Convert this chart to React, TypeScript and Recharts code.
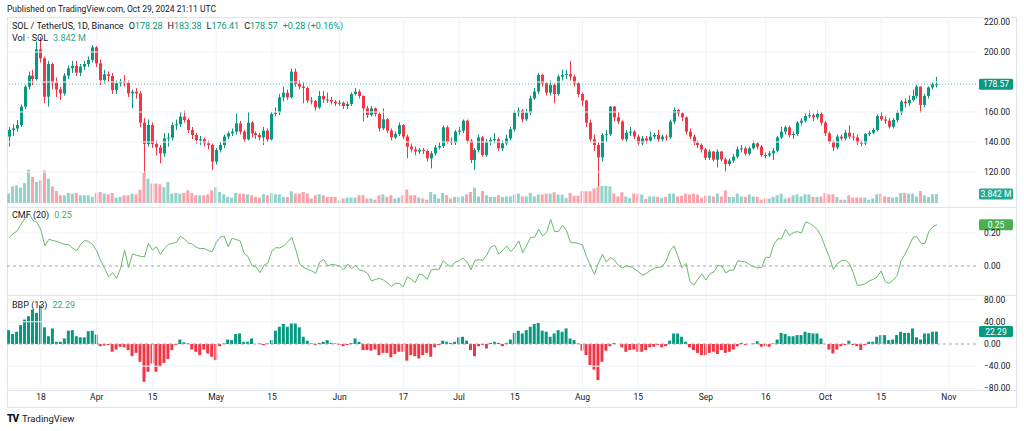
import React from "react";
import { ComposedChart, Bar, Line, XAxis, YAxis, ReferenceLine, Cell } from "recharts";

const UP = "#089981";
const DOWN = "#f23645";
const UP_VOL = "#93d2c8";
const DOWN_VOL = "#f9a3aa";
const CMF_COLOR = "#4caf50";
const GRID = "#f0f3fa";
const BORDER = "#e0e3eb";
const TEXT = "#131722";
const FONT = "'Trebuchet MS', Roboto, 'Liberation Sans', sans-serif";

// daily candles, Mar 10 (index 0) .. Oct 29 2024 (index 233)
const firstOpen = 143.6;
const closes = [
  148.0, 149.0, 151.3, 163.6, 176.9, 184.2, 182.0, 201.8, 195.8, 170.2,
  192.0, 179.6, 175.1, 172.4, 184.2, 189.1, 190.7, 186.2, 190.2, 192.0,
  194.7, 203.1, 192.4, 181.3, 185.1, 184.0, 174.7, 179.1, 180.2, 179.5,
  172.4, 173.6, 172.4, 152.9, 138.7, 151.3, 138.7, 136.4, 132.4, 142.4,
  142.9, 151.3, 151.8, 156.9, 154.7, 148.0, 144.7, 141.3, 141.8, 139.1,
  138.0, 126.9, 134.7, 138.0, 143.6, 145.8, 146.9, 152.4, 146.9, 141.8,
  152.9, 145.8, 144.7, 143.1, 147.6, 141.8, 158.7, 159.6, 169.8, 172.9,
  169.8, 186.9, 178.7, 176.9, 176.0, 167.6, 167.2, 163.1, 170.7, 168.4,
  168.0, 166.9, 165.8, 166.2, 164.0, 165.3, 172.0, 173.6, 170.7, 162.4,
  158.0, 162.4, 158.7, 149.1, 155.1, 147.6, 143.1, 145.3, 151.3, 143.6,
  136.9, 135.1, 133.6, 134.7, 134.0, 129.1, 132.4, 136.4, 137.3, 149.8,
  140.2, 139.6, 146.9, 147.6, 154.2, 140.9, 128.0, 134.7, 143.1, 131.3,
  140.2, 141.3, 141.8, 135.8, 139.1, 142.4, 148.4, 159.6, 160.9, 155.1,
  159.6, 169.1, 173.6, 184.7, 179.1, 172.9, 178.0, 172.0, 183.6, 184.7,
  185.3, 183.6, 179.1, 172.0, 167.6, 152.9, 141.8, 138.0, 129.8, 144.7,
  145.2, 163.6, 156.4, 153.6, 141.8, 146.2, 146.9, 143.6, 139.1, 142.4,
  140.9, 143.6, 144.7, 141.8, 143.6, 143.1, 153.6, 161.3, 159.1, 156.4,
  146.9, 143.6, 139.6, 138.0, 135.1, 129.5, 133.6, 128.2, 133.6, 128.4,
  125.3, 127.6, 130.2, 135.1, 135.8, 132.2, 135.8, 139.1, 136.9, 131.3,
  131.1, 132.4, 134.2, 143.1, 146.9, 149.8, 144.7, 145.3, 152.9, 154.2,
  157.3, 157.8, 156.4, 158.7, 152.9, 145.8, 140.2, 136.4, 143.6, 142.4,
  146.2, 143.6, 143.1, 139.6, 139.1, 145.3, 146.2, 148.0, 157.3, 155.1,
  154.2, 150.2, 154.7, 159.6, 166.9, 165.8, 168.0, 170.7, 176.9, 164.7,
  170.7, 176.4, 178.28, 178.57,
];
const highs = [
  150, 152, 154.7, 165, 178, 187, 188, 207, 210, 197,
  194, 193, 183, 177, 186, 191, 194, 194, 192, 194,
  197, 204.7, 204, 195, 188, 187, 186, 181, 182, 184.5,
  181, 175, 176, 174, 156, 155, 153, 141, 138, 146,
  146, 153, 155, 160, 161, 156, 150, 146, 144, 143,
  141, 139, 136, 140, 145, 147, 149, 159, 154, 148,
  160, 154, 147, 146, 150, 149, 160, 163, 172, 177,
  175, 189, 189, 181, 180, 177, 170, 168, 174, 174,
  173, 170, 168, 168, 167, 167, 173, 176, 175, 171,
  164, 164, 163, 160, 162.4, 156, 149, 147, 153, 152,
  145, 139, 137, 136, 136, 135, 134, 138, 140, 151,
  151, 143, 148, 150, 155, 155, 142, 136, 145, 144,
  142, 143, 146, 143, 141, 145, 150, 161, 163, 162,
  162, 171, 176, 186, 185.5, 180, 181, 179, 185, 188.4,
  188, 194, 185, 180, 173, 168, 155, 145, 140, 146,
  148, 164, 164, 160, 154.5, 148, 150, 148, 145, 144,
  144, 147, 146, 148, 145, 145, 155, 163, 162, 160,
  157, 149, 145, 141, 139, 136, 135, 134, 135, 134,
  129.5, 129, 132, 137, 138, 137, 137, 141, 140, 138,
  133, 134, 136, 144, 150, 151, 151, 147, 154, 156,
  159, 161, 159, 161, 160, 154, 147, 141, 145, 145,
  148, 151, 146, 145, 141, 146, 147.5, 149.5, 158.5, 160,
  157, 156, 156, 161, 168, 169, 171, 175, 178, 177,
  172, 177, 180, 183.38,
];
const lows = [
  137, 144, 147, 150, 162, 175, 178, 181, 193, 165.8,
  163.6, 175, 170, 168, 171, 182, 186, 184, 184, 188,
  190, 193, 190, 178, 179, 180, 172, 172, 177, 177,
  170, 162.4, 169, 150, 119, 137, 136, 131, 125.8, 130,
  137, 141, 148, 150, 153, 146, 142, 139, 138, 137,
  135, 121.3, 125, 133, 136, 142, 144, 145, 145, 140,
  141, 143, 142, 141, 138, 140, 141, 157, 158, 167,
  168, 169, 177, 175, 165.8, 166, 165, 161, 162, 166,
  166, 165, 164, 164, 162, 162, 164, 171, 169, 153.6,
  156, 157, 157, 147, 148, 146, 141, 142, 144, 142,
  129.1, 133, 131, 132, 132, 127, 122.4, 131, 135, 136,
  139, 138, 138, 145, 146, 139, 126, 121.3, 133, 130,
  130, 138, 139, 134, 134, 138, 141, 147, 157, 153,
  154, 158, 168, 172, 177, 171, 171, 165.8, 171, 181,
  182, 181, 177, 170, 164, 150, 140, 134, 110.2, 127,
  140, 144, 154, 152, 141, 140, 144, 142, 138, 138,
  139, 140, 142, 140, 140, 141, 142, 152, 157, 154,
  145, 142, 138, 136, 133, 128, 128, 127, 123, 127,
  120.2, 124, 126, 129, 133, 131, 131, 135, 135, 130,
  129, 130, 128, 133, 142, 145, 143, 142, 144, 151,
  153, 156, 154, 155, 151, 144, 139, 134, 135, 141,
  141, 142, 141, 138, 137, 138, 144, 145, 147, 154,
  152, 149, 149, 153, 158, 163, 164, 167, 169, 159.6,
  163, 169, 175, 176.41,
];
// volume, millions of SOL
const volumes = [
  4.0, 7.1, 7.5, 6.5, 8.5, 14.2, 11.1, 9.0, 9.7, 13.9,
  10.4, 7.1, 5.1, 3.3, 3.3, 4.3, 4.0, 4.3, 3.3, 3.3,
  3.3, 2.6, 4.3, 4.7, 4.0, 3.7, 4.3, 2.3, 2.6, 3.3,
  3.3, 4.0, 3.7, 5.7, 12.8, 10.4, 8.3, 8.3, 8.0, 6.8,
  9.0, 4.0, 4.3, 4.0, 4.3, 5.4, 4.3, 3.3, 3.3, 3.3,
  3.7, 5.4, 6.8, 4.7, 3.7, 2.6, 2.3, 4.3, 4.0, 4.0,
  3.7, 3.3, 2.6, 2.3, 3.7, 3.3, 4.3, 3.7, 3.7, 2.6,
  2.6, 5.0, 4.0, 4.0, 4.7, 4.0, 1.9, 3.3, 3.7, 3.3,
  2.6, 2.6, 2.6, 1.1, 1.9, 2.3, 2.3, 2.3, 3.3, 3.3,
  1.9, 1.9, 1.4, 3.3, 3.7, 2.6, 3.3, 1.9, 2.3, 3.3,
  5.7, 3.3, 3.3, 2.3, 1.9, 1.4, 4.7, 3.7, 1.9, 4.3,
  3.3, 1.9, 2.6, 2.6, 2.8, 3.7, 4.7, 6.5, 2.8, 5.1,
  3.3, 2.6, 2.6, 3.3, 2.6, 2.8, 2.8, 3.6, 4.0, 2.8,
  2.8, 4.3, 2.8, 3.6, 3.6, 4.0, 4.0, 4.6, 3.6, 3.6,
  2.1, 4.3, 3.1, 3.1, 5.0, 5.0, 5.0, 6.2, 6.8, 7.3,
  7.3, 7.1, 4.0, 2.8, 4.6, 2.8, 2.1, 4.0, 4.0, 3.6,
  1.7, 2.8, 2.8, 2.6, 2.1, 2.6, 4.0, 4.0, 2.8, 3.1,
  4.0, 3.6, 4.0, 3.6, 2.1, 3.1, 3.1, 2.8, 4.0, 2.8,
  5.4, 2.6, 2.6, 4.0, 2.8, 2.6, 3.6, 2.8, 2.6, 1.4,
  1.9, 1.9, 2.6, 3.3, 4.0, 1.9, 2.3, 3.3, 3.7, 2.8,
  3.7, 3.7, 2.6, 2.6, 2.8, 4.3, 3.7, 3.7, 2.6, 1.4,
  1.4, 3.3, 2.3, 2.3, 2.3, 2.3, 1.4, 1.9, 3.7, 4.0,
  2.8, 2.6, 2.3, 2.6, 4.3, 4.3, 4.0, 4.0, 2.8, 5.1,
  3.3, 2.6, 3.7, 3.842,
];
// Chaikin Money Flow (20)
const cmfValues = [
  0.172, 0.196, 0.212, 0.253, 0.289, 0.317, 0.277, 0.263, 0.218, 0.121,
  0.162, 0.154, 0.149, 0.139, 0.131, 0.129, 0.107, 0.093, 0.133, 0.154,
  0.149, 0.129, 0.093, 0.032, -0.014, -0.065, -0.04, -0.075, -0.014, 0.097,
  -0.008, 0.073, 0.065, 0.059, 0.055, 0.137, 0.097, 0.117, 0.071, 0.107,
  0.131, 0.137, 0.143, 0.18, 0.164, 0.141, 0.133, 0.113, 0.105, 0.107,
  0.093, 0.087, 0.143, 0.174, 0.182, 0.117, 0.168, 0.16, 0.154, 0.077,
  0.057, 0.002, -0.004, -0.04, 0.004, 0.018, 0.091, 0.111, 0.109, 0.123,
  0.147, 0.174, 0.097, 0.012, -0.01, -0.02, -0.03, -0.044, 0.024, 0.04,
  0.0, 0.01, 0.006, 0.0, -0.024, 0.012, -0.016, 0.004, -0.024, -0.03,
  -0.044, -0.091, -0.081, -0.075, -0.085, -0.101, -0.125, -0.105, -0.105, -0.125,
  -0.065, -0.081, -0.101, -0.048, -0.057, -0.081, -0.024, -0.02, -0.02, 0.032,
  0.01, -0.004, 0.022, 0.032, 0.048, 0.026, -0.024, 0.034, 0.038, 0.034,
  0.069, 0.115, 0.125, 0.073, 0.097, 0.121, 0.087, 0.115, 0.152, 0.081,
  0.127, 0.174, 0.174, 0.222, 0.182, 0.202, 0.283, 0.208, 0.21, 0.248,
  0.214, 0.141, 0.141, 0.137, 0.127, 0.057, 0.0, -0.051, 0.016, 0.071,
  0.024, 0.051, 0.036, 0.004, -0.012, 0.0, -0.004, -0.016, -0.034, -0.055,
  -0.046, -0.028, -0.014, -0.008, -0.004, 0.03, 0.093, 0.121, 0.057, -0.01,
  0.016, -0.095, -0.115, -0.079, -0.048, -0.085, -0.048, -0.036, 0.004, 0.0,
  -0.042, -0.026, -0.024, 0.032, 0.028, 0.024, 0.008, -0.004, -0.012, -0.008,
  0.053, 0.051, 0.127, 0.164, 0.166, 0.222, 0.184, 0.204, 0.208, 0.2,
  0.267, 0.259, 0.242, 0.22, 0.178, 0.113, 0.053, -0.02, 0.014, 0.032,
  0.036, 0.016, -0.04, -0.117, -0.115, -0.107, -0.091, -0.081, -0.067, -0.03,
  -0.095, -0.105, -0.085, -0.059, 0.032, 0.071, 0.121, 0.174, 0.178, 0.137,
  0.137, 0.21, 0.238, 0.25,
];
// Bull Bear Power (13)
const bbpValues = [
  25, 18, 22, 34, 44, 50, 62, 56, 70, 30,
  14, 28, 4, 4, 10, 24, 25, 14, 12, 12,
  23, 24, 17, -4, -3, -2, -14, -10, -5, -6,
  -11, -22, -16, -32, -68, -50, -35, -50, -41, -34,
  -27, -11, -2, 8, 3, 1, -10, -14, -20, -10,
  -17, -23, -29, -4, 1, 8, 7, 18, 19, 4,
  4, 10, 0, 1, -2, 1, 7, 24, 31, 36,
  31, 37, 37, 30, 13, 6, 1, -2, 2, 4,
  7, 2, 1, -2, -4, -2, 2, 10, 4, -11,
  -11, -12, -10, -20, -16, -16, -24, -18, -14, -14,
  -30, -20, -22, -26, -20, -16, -23, -6, -2, 6,
  4, 2, 4, 12, 13, 6, -11, -22, -4, -2,
  -8, 2, 4, 2, -4, 2, 8, 20, 24, 19,
  25, 31, 36, 38, 24, 22, 13, 19, 25, 22,
  28, 10, 7, 1, -12, -20, -38, -46, -65, -32,
  -12, -4, 2, 0, -6, -14, -11, -10, -14, -14,
  -11, -6, -5, -2, -6, -4, 6, 19, 19, 13,
  4, -6, -11, -16, -20, -20, -16, -14, -18, -11,
  -16, -14, -10, -4, 2, -2, 0, 1, 5, -5,
  -4, -5, 1, 8, 20, 18, 14, 14, 16, 16,
  22, 20, 19, 19, 10, 0, -10, -17, -10, -4,
  -2, 6, -2, -4, -11, -2, 4, 4, 13, 16,
  16, 7, 8, 16, 22, 20, 20, 28, 12, 8,
  19, 19, 22, 22.29,
];

const xTicks = [8, 22, 36, 52, 66, 83, 99, 113, 127, 144, 158, 175, 190, 205, 219, 236];
const xLabels = ["18", "Apr", "15", "May", "15", "Jun", "17", "Jul", "15", "Aug", "15", "Sep", "16", "Oct", "15", "Nov"];
const priceTicks = [120, 140, 160, 200, 220];
const priceGrid = [120, 140, 160, 180, 200, 220];
const cmfTicks = [0, 0.2];
const bbpTicks = [-80, -40, 0, 40, 80];

const rows = closes.map((c, i) => ({
  i,
  open: i === 0 ? firstOpen : closes[i - 1],
  high: highs[i],
  low: lows[i],
  close: c,
  vol: volumes[i],
  cmf: cmfValues[i],
  bbp: bbpValues[i],
}));

const X_DOMAIN: [number, number] = [-0.527, 242.82];
const CHART_W = 1017;
const AXIS_W = 48;

const Candle = (props: any) => {
  const { x, y, width, height, payload } = props;
  if (!payload) return null;
  const { open, close, high, low } = payload;
  const color = close >= open ? UP : DOWN;
  const top = Math.min(y, y + height);
  const h = Math.abs(height);
  const span = high - low || 1;
  const yOf = (v: number) => top + ((high - v) / span) * h;
  const cx = Math.round(x + width / 2) + 0.5;
  const b1 = yOf(Math.max(open, close));
  const b2 = yOf(Math.min(open, close));
  return (
    <g>
      <line x1={cx} x2={cx} y1={top} y2={top + h} stroke={color} strokeWidth={1} />
      <rect x={cx - 1.5} y={b1} width={3} height={Math.max(1, b2 - b1)} fill={color} />
    </g>
  );
};

const Tag = (props: any) => {
  const { viewBox, text, color } = props;
  if (!viewBox) return null;
  const x = viewBox.x + viewBox.width + 3;
  const y = viewBox.y;
  return (
    <g>
      <rect x={x} y={y - 5.5} width={34} height={11} rx={1.5} fill={color} />
      <text x={x + 17} y={y + 3} textAnchor="middle" fontSize={8.5} fill="#ffffff" fontFamily={FONT}>
        {text}
      </text>
    </g>
  );
};

const tickStyle = { fontSize: 8.5, fill: TEXT, fontFamily: FONT };

const vGrid = (axis?: string) =>
  xTicks.map(t => (
    <ReferenceLine key={"v" + t} x={t} stroke={GRID} strokeWidth={1} {...(axis ? { yAxisId: axis } : {})} />
  ));

const Legend = ({ top, parts }: { top: number; parts: [string, string, number][] }) => (
  <div style={{ position: "absolute", left: 12, top, fontSize: 9, fontFamily: FONT, whiteSpace: "nowrap", lineHeight: "10px" }}>
    {parts.map(([t, c, gap], k) => (
      <span key={k} style={{ color: c, marginLeft: gap }}>{t}</span>
    ))}
  </div>
);

const HLine = ({ y }: { y: number }) => (
  <div style={{ position: "absolute", left: 7, top: y, width: 1010, height: 1, background: BORDER }} />
);

export default function App() {
  return (
    <div style={{ position: "absolute", left: 0, top: 0, width: 1024, height: 431, background: "#fff", overflow: "hidden", fontFamily: FONT }}>
      <div style={{ position: "absolute", left: 7, top: 4, fontSize: 8.5, color: TEXT, whiteSpace: "nowrap" }}>
        Published on TradingView.com, Oct 29, 2024 21:11 UTC
      </div>

      {/* frame */}
      <HLine y={17} />
      <HLine y={207} />
      <HLine y={295} />
      <HLine y={390} />
      <HLine y={407} />
      <div style={{ position: "absolute", left: 7, top: 17, width: 1, height: 390, background: BORDER }} />
      <div style={{ position: "absolute", left: 1016, top: 17, width: 1, height: 390, background: BORDER }} />

      {/* volume overlay */}
      <div style={{ position: "absolute", left: 7, top: 17 }}>
        <ComposedChart width={CHART_W} height={190} data={rows} margin={{ top: 0, right: AXIS_W, bottom: 0, left: 0 }}>
          <XAxis type="number" dataKey="i" domain={X_DOMAIN} hide allowDataOverflow />
          <YAxis yAxisId="vol" hide domain={[-1.71, 79.4]} allowDataOverflow />
          {vGrid("vol")}
          <Bar yAxisId="vol" dataKey="vol" barSize={3} isAnimationActive={false}>
            {rows.map((r, k) => (
              <Cell key={k} fill={r.close >= r.open ? UP_VOL : DOWN_VOL} />
            ))}
          </Bar>
          <ReferenceLine yAxisId="vol" y={3.842} stroke="none" label={<Tag text="3.842 M" color="#22ab94" />} />
        </ComposedChart>
      </div>

      {/* price candles */}
      <div style={{ position: "absolute", left: 7, top: 17 }}>
        <ComposedChart width={CHART_W} height={190} data={rows} margin={{ top: 0, right: 0, bottom: 0, left: 0 }}>
          <XAxis type="number" dataKey="i" domain={X_DOMAIN} hide allowDataOverflow />
          <YAxis
            yAxisId="price"
            orientation="right"
            width={AXIS_W}
            domain={[96.67, 223.33]}
            allowDataOverflow
            ticks={priceTicks}
            interval={0}
            tickFormatter={(v: number) => v.toFixed(2)}
            axisLine={false}
            tickLine={false}
            tickSize={0}
            tickMargin={8}
            tick={tickStyle}
          />
          {priceGrid.map(p => (
            <ReferenceLine key={"h" + p} yAxisId="price" y={p} stroke={GRID} />
          ))}
          <ReferenceLine
            yAxisId="price"
            y={178.57}
            stroke={UP}
            strokeOpacity={0.6}
            strokeDasharray="1 2"
            label={<Tag text="178.57" color={UP} />}
          />
          <Bar yAxisId="price" dataKey={(d: any) => [d.low, d.high]} barSize={3} shape={<Candle />} isAnimationActive={false} />
        </ComposedChart>
      </div>

      {/* CMF pane */}
      <div style={{ position: "absolute", left: 7, top: 208 }}>
        <ComposedChart width={CHART_W} height={87} data={rows} margin={{ top: 0, right: 0, bottom: 0, left: 0 }}>
          <XAxis type="number" dataKey="i" domain={X_DOMAIN} hide allowDataOverflow />
          <YAxis
            yAxisId="cmf"
            orientation="right"
            width={AXIS_W}
            domain={[-0.1758, 0.3515]}
            allowDataOverflow
            ticks={cmfTicks}
            interval={0}
            tickFormatter={(v: number) => v.toFixed(2)}
            axisLine={false}
            tickLine={false}
            tickSize={0}
            tickMargin={8}
            tick={tickStyle}
          />
          {vGrid("cmf")}
          <ReferenceLine yAxisId="cmf" y={0.2} stroke={GRID} />
          <ReferenceLine yAxisId="cmf" y={0} stroke="#a3a6af" strokeDasharray="3 3" />
          <Line yAxisId="cmf" dataKey="cmf" stroke="#66bb6a" strokeWidth={1} dot={false} isAnimationActive={false} />
          <ReferenceLine yAxisId="cmf" y={0.25} stroke="none" label={<Tag text="0.25" color={CMF_COLOR} />} />
        </ComposedChart>
      </div>

      {/* BBP pane + time axis */}
      <div style={{ position: "absolute", left: 7, top: 296 }}>
        <ComposedChart width={CHART_W} height={111} data={rows} margin={{ top: 0, right: 0, bottom: 0, left: 0 }}>
          <XAxis
            type="number"
            dataKey="i"
            domain={X_DOMAIN}
            allowDataOverflow
            ticks={xTicks}
            interval={0}
            height={17}
            tickFormatter={(v: number) => xLabels[xTicks.indexOf(v)]}
            axisLine={false}
            tickLine={false}
            tickSize={0}
            tickMargin={4}
            tick={tickStyle}
          />
          <YAxis
            yAxisId="bbp"
            orientation="right"
            width={AXIS_W}
            domain={[-82.8, 86.4]}
            allowDataOverflow
            ticks={bbpTicks}
            interval={0}
            tickFormatter={(v: number) => v.toFixed(2).replace("-", "\u2212")}
            axisLine={false}
            tickLine={false}
            tickSize={0}
            tickMargin={8}
            tick={tickStyle}
          />
          {vGrid("bbp")}
          {[80, 40, -40, -80].map(v => (
            <ReferenceLine key={"b" + v} yAxisId="bbp" y={v} stroke={GRID} />
          ))}
          <ReferenceLine yAxisId="bbp" y={0} stroke="#a3a6af" strokeDasharray="3 3" />
          <Bar yAxisId="bbp" dataKey="bbp" barSize={3} isAnimationActive={false}>
            {rows.map((r, k) => (
              <Cell key={k} fill={r.bbp >= 0 ? UP : DOWN} />
            ))}
          </Bar>
          <ReferenceLine yAxisId="bbp" y={22.29} stroke="none" label={<Tag text="22.29" color={UP} />} />
        </ComposedChart>
      </div>

      {/* legends */}
      <Legend
        top={21}
        parts={[
          ["SOL / TetherUS, 1D, Binance", TEXT, 0],
          ["O", TEXT, 5], ["178.28", UP, 0],
          ["H", TEXT, 5], ["183.38", UP, 0],
          ["L", TEXT, 5], ["176.41", UP, 0],
          ["C", TEXT, 5], ["178.57", UP, 0],
          ["+0.28 (+0.16%)", UP, 5],
        ]}
      />
      <Legend top={33} parts={[["Vol \u00b7 SOL", TEXT, 0], ["3.842 M", "#22ab94", 5]]} />
      <Legend top={210} parts={[["CMF (20)", TEXT, 0], ["0.25", CMF_COLOR, 5]]} />
      <Legend top={300} parts={[["BBP (13)", TEXT, 0], ["22.29", "#22ab94", 5]]} />

      {/* footer */}
      <div style={{ position: "absolute", left: 7, top: 413, fontSize: 10, color: TEXT, whiteSpace: "nowrap", display: "flex", alignItems: "center" }}>
        <span style={{ fontWeight: 900, fontSize: 10, letterSpacing: -1, marginRight: 4 }}>TV</span>
        <span style={{ fontSize: 9.5 }}>TradingView</span>
      </div>
    </div>
  );
}
